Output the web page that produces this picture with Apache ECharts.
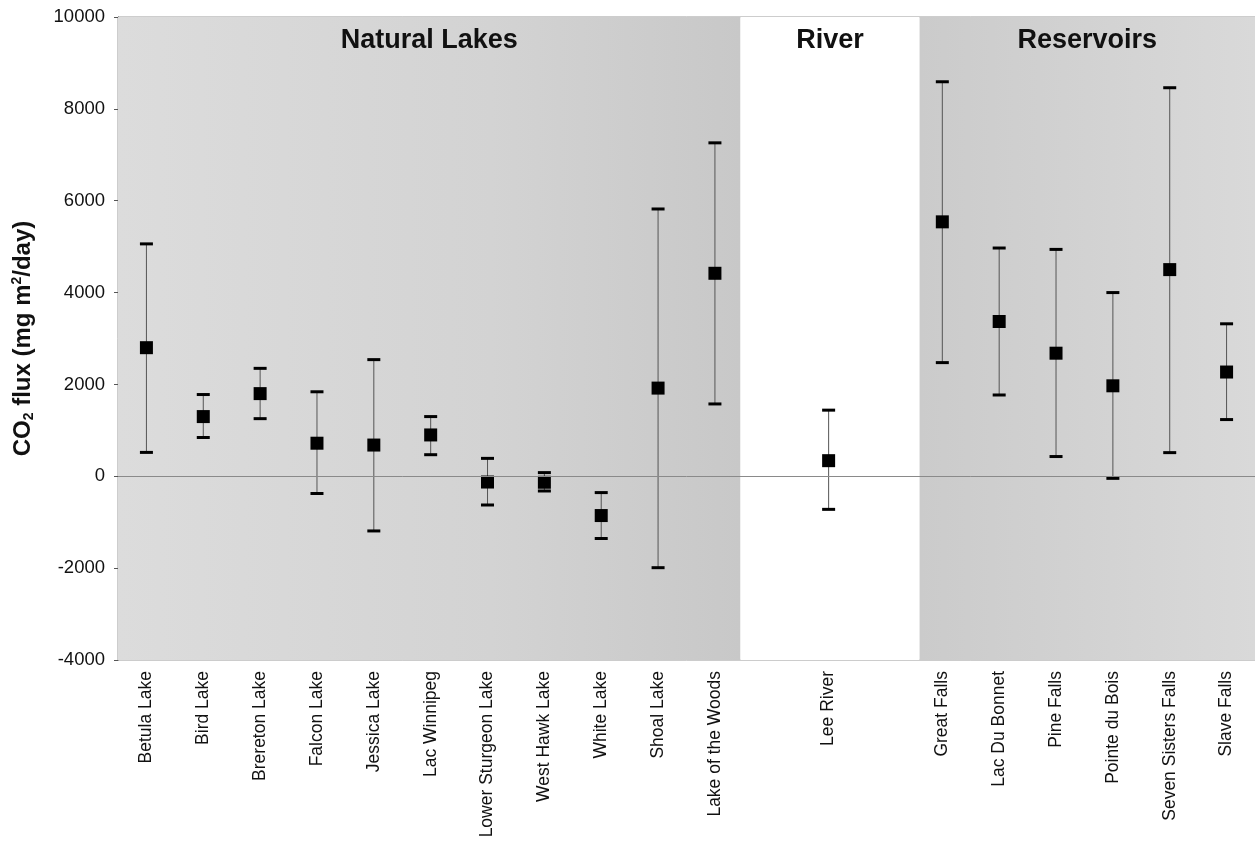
<!DOCTYPE html>
<html>
<head>
<meta charset="utf-8">
<script src="https://cdn.jsdelivr.net/npm/echarts@6/dist/echarts.min.js"></script>
<style>html,body{margin:0;padding:0;background:#fff}#c{width:1255px;height:859px}</style>
</head>
<body>
<div id="c"></div>
<script>
// Categories ('' = empty spacer slot between groups)
const categories = ['Betula Lake','Bird Lake','Brereton Lake','Falcon Lake','Jessica Lake','Lac Winnipeg',
  'Lower Sturgeon Lake','West Hawk Lake','White Lake','Shoal Lake','Lake of the Woods','',
  'Lee River','',
  'Great Falls','Lac Du Bonnet','Pine Falls','Pointe du Bois','Seven Sisters Falls','Slave Falls'];
const meanFlux  = [2800,1300,1800,720,680,900,-125,-130,-855,1920,4420,null,340,null,5540,3370,2680,1970,4500,2270];
const upperFlux = [5060,1780,2350,1840,2540,1300,390,80,-355,5820,7260,null,1440,null,8590,4970,4940,4000,8460,3320];
const lowerFlux = [520,845,1255,-375,-1190,470,-625,-320,-1355,-1990,1575,null,-720,null,2475,1770,430,-45,515,1235];
const yTicks = [-4000,-2000,0,2000,4000,6000,8000,10000];
const groups = [
  {name:'Natural Lakes', from:0, to:10.95},
  {name:'River', from:10.95, to:14.1},
  {name:'Reservoirs', from:14.1, to:20}
];

const errData = [], meanData = [];
categories.forEach((c,i)=>{
  if (meanFlux[i] !== null) {
    errData.push([i, lowerFlux[i], upperFlux[i]]);
    meanData.push([i, meanFlux[i]]);
  }
});

const bandColors = [
  {type:'linear',x:0,y:0,x2:1,y2:0,colorStops:[{offset:0,color:'#dcdcdc'},{offset:0.6,color:'#d3d3d3'},{offset:1,color:'#c8c8c8'}]},
  '#ffffff',
  {type:'linear',x:0,y:0,x2:1,y2:0,colorStops:[{offset:0,color:'#cbcbcb'},{offset:1,color:'#d9d9d9'}]}
];

const chart = echarts.init(document.getElementById('c'));
chart.setOption({
  animation:false,
  textStyle:{fontFamily:'Liberation Sans, Arial, sans-serif'},
  grid:{left:118, right:0, top:17, bottom:199, show:true, borderColor:'#9a9a9a', borderWidth:1, backgroundColor:'transparent'},
  xAxis:[
    {type:'category', data:categories, boundaryGap:true,
     axisLine:{show:true, lineStyle:{color:'#9a9a9a'}}, axisTick:{show:false},
     axisLabel:{interval:0, rotate:90, fontSize:17.5, color:'#111', margin:11}},
    {type:'value', min:0, max:20, show:false}
  ],
  yAxis:{type:'value', min:-4000, max:10000, interval:2000,
    axisLine:{show:true, lineStyle:{color:'#555'}},
    axisTick:{show:true, length:4, lineStyle:{color:'#555'}},
    splitLine:{show:false},
    axisLabel:{fontSize:18.5, color:'#111', margin:13, formatter:function(v){ return yTicks.indexOf(v) >= 0 ? String(v) : ''; }},
    name:'{b|CO}{sub|2}{b| flux (mg m}{sup|2}{b|/day)}',
    nameLocation:'middle', nameGap:82, nameRotate:90,
    nameTextStyle:{rich:{
      b:{fontSize:24, fontWeight:'bold', color:'#111'},
      sub:{fontSize:14, fontWeight:'bold', color:'#111', verticalAlign:'bottom', padding:[12,0,0,0]},
      sup:{fontSize:14, fontWeight:'bold', color:'#111', verticalAlign:'top', padding:[0,0,10,0]}
    }}
  },
  series:[
    {type:'scatter', xAxisIndex:1, data:[[0,-4000]], symbolSize:0, silent:true, z:0,
     markArea:{silent:true,
       label:{show:true, position:'insideTop', distance:10, fontSize:27, fontWeight:'bold', color:'#111'},
       data: groups.map((g,i)=>[{name:g.name, xAxis:g.from, itemStyle:{color:bandColors[i]}}, {xAxis:g.to}])
     },
     markLine:{silent:true, symbol:'none', label:{show:false}, lineStyle:{color:'#8a8a8a', width:1, type:'solid'},
       data:[{yAxis:0}]}
    },
    {type:'custom', xAxisIndex:0, data:errData, z:3,
     renderItem:function(params, api){
       const lo = api.coord([api.value(0), api.value(1)]);
       const hi = api.coord([api.value(0), api.value(2)]);
       const w = 13, t = 3;
       return {type:'group', children:[
         {type:'line', shape:{x1:lo[0], y1:lo[1], x2:hi[0], y2:hi[1]}, style:{stroke:'#555', lineWidth:1}},
         {type:'rect', shape:{x:hi[0]-w/2, y:hi[1]-t/2, width:w, height:t}, style:{fill:'#000'}},
         {type:'rect', shape:{x:lo[0]-w/2, y:lo[1]-t/2, width:w, height:t}, style:{fill:'#000'}}
       ]};
     }
    },
    {type:'scatter', xAxisIndex:0, data:meanData, symbol:'rect', symbolSize:13, z:4,
     itemStyle:{color:'#000', opacity:1}}
  ]
});
</script>
</body>
</html>
